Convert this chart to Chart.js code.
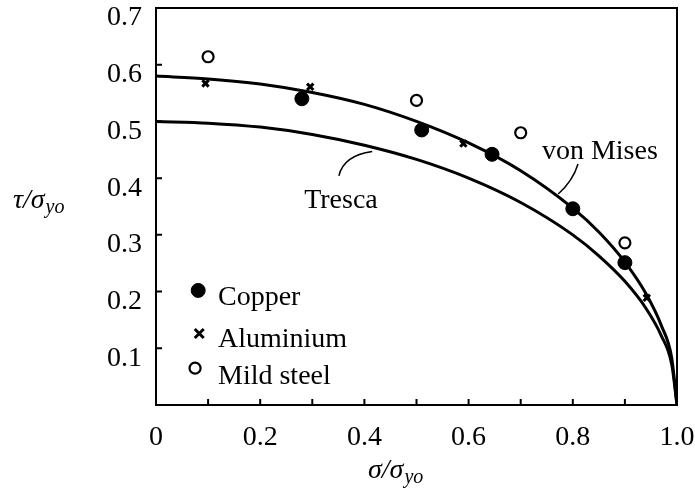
<!DOCTYPE html>
<html>
<head>
<meta charset="utf-8">
<script src="https://cdn.jsdelivr.net/npm/chart.js@4.4.0/dist/chart.umd.min.js"></script>
<style>
  body { margin: 0; background: #fff; }
  #wrap { width: 695px; height: 490px; }
</style>
</head>
<body>
<div id="wrap"><canvas id="myChart" width="695" height="490"></canvas></div>
<script>
// theoretical yield loci
let curveX    = [0, 0.1, 0.2, 0.3, 0.4, 0.5, 0.6, 0.7, 0.8, 0.85, 0.9, 0.94, 0.97, 0.99, 1.0];
let vonMisesY = [0.58, 0.575, 0.566, 0.551, 0.53, 0.50, 0.462, 0.413, 0.347, 0.305, 0.252, 0.197, 0.14, 0.082, 0];
let trescaY   = [0.50, 0.497, 0.49, 0.477, 0.458, 0.433, 0.40, 0.357, 0.30, 0.263, 0.218, 0.171, 0.122, 0.071, 0];

// experimental points
let copperX = [0.28, 0.51, 0.645, 0.80, 0.90];
let copperY = [0.54, 0.485, 0.442, 0.346, 0.251];
let aluminiumX = [0.095, 0.296, 0.59, 0.80, 0.942];
let aluminiumY = [0.567, 0.561, 0.461, 0.351, 0.189];
let mildSteelX = [0.10, 0.50, 0.70, 0.90];
let mildSteelY = [0.614, 0.537, 0.48, 0.286];

let xTicks = [0, 0.2, 0.4, 0.6, 0.8, 1.0];
let yTicks = [0.1, 0.2, 0.3, 0.4, 0.5, 0.6, 0.7];

const FONT = "'Liberation Serif', 'Times New Roman', serif";

function pts(xs, ys) {
    return xs.map((x, i) => ({ x: x, y: ys[i] }));
}

const markers = {
    copper: { style: 'circle', radius: 7, fill: '#000', stroke: '#000', width: 1 },
    aluminium: { style: 'crossRot', radius: 4.5, fill: '#000', stroke: '#000', width: 3 },
    mild: { style: 'circle', radius: 5.5, fill: '#fff', stroke: '#000', width: 2.2 },
};

function drawMarker(ctx, m, x, y) {
    ctx.save();
    ctx.beginPath();
    ctx.lineWidth = m.width;
    ctx.strokeStyle = m.stroke;
    ctx.fillStyle = m.fill;
    if (m.style === 'circle') {
        ctx.arc(x, y, m.radius, 0, Math.PI * 2);
        ctx.fill();
        ctx.stroke();
    } else {
        let r = m.radius;
        ctx.moveTo(x - r, y - r); ctx.lineTo(x + r, y + r);
        ctx.moveTo(x + r, y - r); ctx.lineTo(x - r, y + r);
        ctx.stroke();
    }
    ctx.restore();
}

// labels drawn on the plot (data coordinates)
const notes = [
    { text: 'Tresca', x: 0.355, y: 0.36, from: [0.351, 0.404], ctrl: [0.36, 0.44], to: [0.415, 0.447] },
    { text: 'von Mises', x: 0.852, y: 0.447, from: [0.81, 0.425], ctrl: [0.8, 0.395], to: [0.772, 0.372] },
];
const legendItems = [
    { name: 'Copper', marker: 'copper', mx: 0.081, my: 0.202, ty: 0.19 },
    { name: 'Aluminium', marker: 'aluminium', mx: 0.083, my: 0.126, ty: 0.115 },
    { name: 'Mild steel', marker: 'mild', mx: 0.075, my: 0.065, ty: 0.05 },
];

function drawTitle(ctx, main, sub, x, y) {
    ctx.font = 'italic 28px ' + FONT;
    ctx.textAlign = 'left';
    ctx.textBaseline = 'alphabetic';
    ctx.fillText(main, x, y);
    let w = ctx.measureText(main).width;
    ctx.font = 'italic 20px ' + FONT;
    ctx.fillText(sub, x + w + 1, y + 5);
}

const decor = {
    id: 'decor',
    afterDatasetsDraw(chart) {
        const ctx = chart.ctx;
        const a = chart.chartArea;
        const sx = chart.scales.x, sy = chart.scales.y;
        ctx.save();
        ctx.strokeStyle = '#000';
        ctx.fillStyle = '#000';

        // frame
        ctx.lineWidth = 2;
        ctx.strokeRect(a.left, a.top, a.right - a.left, a.bottom - a.top);

        // inward tick marks
        ctx.lineWidth = 2;
        ctx.beginPath();
        for (let i = 1; i < 10; i++) {
            let px = sx.getPixelForValue(i / 10);
            ctx.moveTo(px, a.bottom);
            ctx.lineTo(px, a.bottom - 6);
        }
        for (let i = 1; i < 7; i++) {
            let py = sy.getPixelForValue(i / 10);
            ctx.moveTo(a.left, py);
            ctx.lineTo(a.left + 6, py);
        }
        ctx.stroke();

        // curve labels with leader lines
        ctx.font = '28px ' + FONT;
        ctx.textAlign = 'center';
        ctx.textBaseline = 'middle';
        ctx.lineWidth = 1.5;
        notes.forEach((n) => {
            ctx.fillText(n.text, sx.getPixelForValue(n.x), sy.getPixelForValue(n.y));
            ctx.beginPath();
            ctx.moveTo(sx.getPixelForValue(n.from[0]), sy.getPixelForValue(n.from[1]));
            ctx.quadraticCurveTo(sx.getPixelForValue(n.ctrl[0]), sy.getPixelForValue(n.ctrl[1]),
                sx.getPixelForValue(n.to[0]), sy.getPixelForValue(n.to[1]));
            ctx.stroke();
        });

        // legend
        legendItems.forEach((item) => {
            drawMarker(ctx, markers[item.marker], sx.getPixelForValue(item.mx), sy.getPixelForValue(item.my));
            ctx.fillStyle = '#000';
            ctx.font = '28px ' + FONT;
            ctx.textAlign = 'left';
            ctx.textBaseline = 'middle';
            ctx.fillText(item.name, sx.getPixelForValue(0.119), sy.getPixelForValue(item.ty));
        });

        // axis titles
        drawTitle(ctx, '\u03C4/\u03C3', 'yo', 13, 208);
        drawTitle(ctx, '\u03C3/\u03C3', 'yo', 368, 478);
        ctx.restore();
    }
};

function curveSet(label, ys) {
    return {
        label: label,
        data: pts(curveX, ys),
        showLine: true,
        borderColor: '#000',
        borderWidth: 3,
        pointRadius: 0,
        cubicInterpolationMode: 'monotone',
        fill: false,
        order: 2,
    };
}

function pointSet(label, xs, ys, m) {
    return {
        label: label,
        data: pts(xs, ys),
        showLine: false,
        pointStyle: m.style,
        pointRadius: m.radius,
        pointBorderWidth: m.width,
        pointBackgroundColor: m.fill,
        pointBorderColor: m.stroke,
        order: 1,
    };
}

const ctx = document.getElementById('myChart');
new Chart(ctx, {
    type: 'scatter',
    data: {
        datasets: [
            curveSet('von Mises', vonMisesY),
            curveSet('Tresca', trescaY),
            pointSet('Copper', copperX, copperY, markers.copper),
            pointSet('Aluminium', aluminiumX, aluminiumY, markers.aluminium),
            pointSet('Mild steel', mildSteelX, mildSteelY, markers.mild),
        ],
    },
    options: {
        responsive: false,
        animation: false,
        layout: { padding: { top: 8, right: 18, left: 0, bottom: 0 } },
        plugins: {
            legend: { display: false },
            tooltip: { enabled: false },
        },
        scales: {
            x: {
                type: 'linear',
                min: 0,
                max: 1,
                afterBuildTicks: (scale) => { scale.ticks = xTicks.map((v) => ({ value: v })); },
                afterFit: (scale) => {
                    scale.height = 85;
                    scale.paddingLeft = 0;
                    scale.paddingRight = 0;
                },
                ticks: {
                    autoSkip: false,
                    maxRotation: 0,
                    padding: 16,
                    color: '#000',
                    font: { family: FONT, size: 28 },
                    callback: (v) => (v === 0 ? '0' : v.toFixed(1)),
                },
                grid: { display: false, drawTicks: false },
                border: { display: false },
            },
            y: {
                type: 'linear',
                min: 0,
                max: 0.7,
                afterBuildTicks: (scale) => { scale.ticks = yTicks.map((v) => ({ value: v })); },
                afterFit: (scale) => {
                    scale.width = 156;
                    scale.paddingTop = 0;
                    scale.paddingBottom = 0;
                },
                ticks: {
                    autoSkip: false,
                    padding: 14,
                    labelOffset: 10,
                    color: '#000',
                    font: { family: FONT, size: 28 },
                    callback: (v) => v.toFixed(1),
                },
                grid: { display: false, drawTicks: false },
                border: { display: false },
            },
        },
    },
    plugins: [decor],
});
</script>
</body>
</html>
